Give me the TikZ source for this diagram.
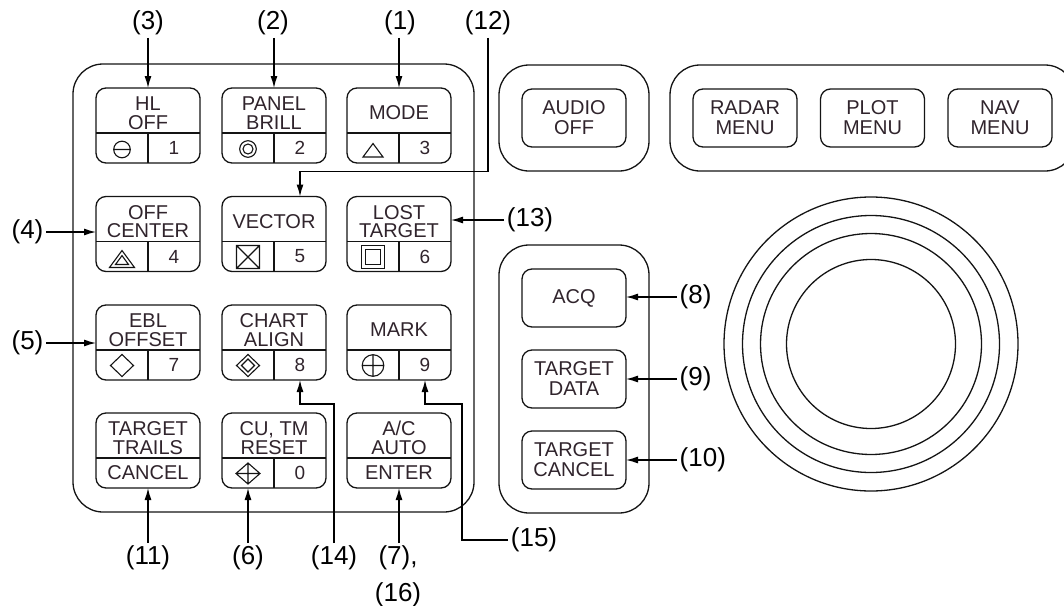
\documentclass[tikz,border=0pt]{standalone}
\usepackage{fontspec}
\setmainfont{Liberation Sans}
\usepackage{xcolor}
\definecolor{keyink}{RGB}{48,36,44}
\definecolor{keyedge}{RGB}{20,20,20}
\usetikzlibrary{calc}
\usetikzlibrary{positioning}
\usetikzlibrary{arrows.meta}
\usetikzlibrary{fit}
\usetikzlibrary{backgrounds}

\newcommand{\panelkey}[5]{%
  \node[key style,#1] (#2) {};
  \draw[divider style] ([yshift=-7.5pt]#2.west) -- ([yshift=-7.5pt]#2.east);
  \draw[divider style] ([yshift=-7.5pt]#2.center) -- (#2.south);
  \node[keytext style] (#2top) at ([yshift=12.5pt]#2.center) {#3};
  \pic at ([xshift=-26pt,yshift=-23pt]#2.center) {#4};
  \node[keynum style] (#2num) at ([xshift=26pt,yshift=-22.5pt]#2.center) {#5};
}
\newcommand{\panelwidekey}[4]{%
  \node[key style,#1] (#2) {};
  \draw[divider style] ([yshift=-7.5pt]#2.west) -- ([yshift=-7.5pt]#2.east);
  \node[keytext style] (#2top) at ([yshift=12.5pt]#2.center) {#3};
  \node[keytext style] (#2low) at ([yshift=-22.5pt]#2.center) {#4};
}

\begin{document}
\begin{tikzpicture}[x=1pt,y=-1pt,
      key style/.style={rectangle,draw=keyedge,line width=1.3pt,rounded corners=10pt,
        minimum width=104pt,minimum height=75pt,inner sep=0pt,outer sep=0pt},
      menu style/.style={key style,minimum height=58pt,align=center,text=keyink,
        font=\fontsize{20}{20}\selectfont},
      divider style/.style={draw=keyedge,line width=1.3pt},
      keytext style/.style={align=center,text=keyink,inner sep=0pt,
        font=\fontsize{20}{18.5}\selectfont},
      keynum style/.style={text=keyink,inner sep=0pt,font=\fontsize{19}{19}\selectfont},
      sym style/.style={draw=keyedge,line width=1.1pt},
      panel style/.style={draw=keyedge,line width=1.3pt,rounded corners=30pt,
        inner xsep=23pt,inner ysep=24pt},
      callout style/.style={align=center,inner sep=2.5pt,font=\fontsize{26}{37}\selectfont},
      pointer style/.style={-{Latex[length=12pt,width=7pt]},line width=1.3pt},
      sym minus/.pic={\draw[sym style] (0,1) circle[radius=8.3pt] (-8.3,1) -- (8.3,1);},
      sym ring/.pic={\draw[sym style] (0,0.5) circle[radius=8.3pt] (0,0.5) circle[radius=5pt];},
      sym tri/.pic={\draw[sym style] (0,-5) -- (10,8.5) -- (-10,8.5) -- cycle;},
      sym tri2/.pic={\draw[sym style] (0,-6.5) -- (12.5,10.5) -- (-12.5,10.5) -- cycle
        (0,-1.4) -- (6.5,7.5) -- (-6.5,7.5) -- cycle;},
      sym boxx/.pic={\draw[sym style] (-11.5,-11.5) rectangle (11.5,11.5)
        (-11.5,-11.5) -- (11.5,11.5) (-11.5,11.5) -- (11.5,-11.5);},
      sym box2/.pic={\draw[sym style] (-11.5,-11.5) rectangle (11.5,11.5)
        (-7.5,-7.5) rectangle (7.5,7.5);},
      sym dia/.pic={\draw[sym style] (0,-11) -- (11.5,0) -- (0,11) -- (-11.5,0) -- cycle;},
      sym dia2/.pic={\draw[sym style] (0,-11) -- (11.5,0) -- (0,11) -- (-11.5,0) -- cycle
        (0,-6.5) -- (6.5,0) -- (0,6.5) -- (-6.5,0) -- cycle;},
      sym plus/.pic={\draw[sym style] (0,0) circle[radius=10.8pt]
        (-10.8,0) -- (10.8,0) (0,-10.8) -- (0,10.8);},
      sym diaplus/.pic={\draw[sym style] (0,-10.5) -- (12,0) -- (0,10.5) -- (-12,0) -- cycle
        (-12,0) -- (12,0) (0,-10.5) -- (0,10.5);}
      ]
      \path[use as bounding box] (0,0) rectangle (1064,605);

      \panelkey{at={(148,125.5)}}{khl}{HL\\OFF}{sym minus}{1}
      \panelkey{right=22pt of khl}{kbrill}{PANEL\\BRILL}{sym ring}{2}
      \panelkey{right=21pt of kbrill}{kmode}{MODE}{sym tri}{3}
      \panelkey{below=33.5pt of khl}{koff}{OFF\\CENTER}{sym tri2}{4}
      \panelkey{right=22pt of koff}{kvec}{VECTOR}{sym boxx}{5}
      \panelkey{right=21pt of kvec}{klost}{LOST\\TARGET}{sym box2}{6}
      \panelkey{below=33.5pt of koff}{kebl}{EBL\\OFFSET}{sym dia}{7}
      \panelkey{right=22pt of kebl}{kchart}{CHART\\ALIGN}{sym dia2}{8}
      \panelkey{right=21pt of kchart}{kmark}{MARK}{sym plus}{9}
      \panelwidekey{below=33pt of kebl}{ktrails}{TARGET\\TRAILS}{CANCEL}
      \panelkey{right=22pt of ktrails}{kreset}{CU, TM\\RESET}{sym diaplus}{0}
      \panelwidekey{right=21pt of kreset}{kauto}{A/C\\AUTO}{ENTER}

      \node[menu style] (kaudio) at (574,118) {AUDIO\\OFF};
      \node[menu style] (kradar) at (745,118) {RADAR\\MENU};
      \node[menu style, right=23.5pt of kradar] (kplot) {PLOT\\MENU};
      \node[menu style, right=23.5pt of kplot] (knav) {NAV\\MENU};
      \node[menu style] (kacq) at (574,298) {ACQ};
      \node[menu style, below=23pt of kacq] (kdata) {TARGET\\DATA};
      \node[menu style, below=23pt of kdata] (kcancel) {TARGET\\CANCEL};

      \coordinate (ball) at (871,344);
      \foreach \r in {84.5,110.5,128.5,147}
        \draw[divider style] (ball) circle[radius=\r pt];

      \node[callout style] (c3) at (148,23) {(3)};
      \node[callout style] (c2) at (273,23) {(2)};
      \node[callout style] (c1) at (400,23) {(1)};
      \node[callout style] (c12) at (488,23) {(12)};
      \node[callout style] (c4) at (27.5,232) {(4)};
      \node[callout style] (c5) at (27.5,343) {(5)};
      \node[callout style] (c13) at (530,220) {(13)};
      \node[callout style, anchor=west] (c8) at (677,297) {(8)};
      \node[callout style, anchor=west] (c9) at (677,379) {(9)};
      \node[callout style, anchor=west] (c10) at (677,460) {(10)};
      \node[callout style] (c11) at (148,558) {(11)};
      \node[callout style] (c6) at (248,558) {(6)};
      \node[callout style] (c14) at (334,558) {(14)};
      \node[callout style, anchor=north] (c7) at (398,543) {(7),\\(16)};
      \node[callout style] (c15) at (534,540) {(15)};

      \draw[pointer style] (khl.north |- c3.south) -- (khl.north);
      \draw[pointer style] (kbrill.north |- c2.south) -- (kbrill.north);
      \draw[pointer style] (kmode.north |- c1.south) -- (kmode.north);
      \draw[pointer style] (c12.south) |- ([xshift=26pt,yshift=25pt]kvec.north) -- ([xshift=26pt]kvec.north);
      \draw[pointer style] (c4.east) -- (c4.east -| koff.west);
      \draw[pointer style] (c5.east) -- (c5.east -| kebl.west);
      \draw[pointer style] (c13.west) -- (c13.west -| klost.east);
      \draw[pointer style] (c8.west) -- (c8.west -| kacq.east);
      \draw[pointer style] (c9.west) -- (c9.west -| kdata.east);
      \draw[pointer style] (c10.west) -- (c10.west -| kcancel.east);
      \draw[pointer style] (ktrails.south |- c11.north) -- (ktrails.south);
      \draw[pointer style] (c6.north) -- (c6.north |- kreset.south);
      \draw[pointer style] (kauto.south |- c7.north) -- (kauto.south);
      \draw[pointer style] (c14.north) |- ([xshift=26pt,yshift=-24pt]kchart.south) -- ([xshift=26pt]kchart.south);
      \draw[pointer style] (c15.west) -| ([xshift=11pt,yshift=-24pt]kmark.south east) -| ([xshift=26pt]kmark.south);

      \begin{scope}[on background layer]
        \node[panel style,fit=(khl)(kauto)] (keypad) {};
        \node[panel style,fit=(kaudio)] (audio) {};
        \node[panel style,fit=(kradar)(knav)] (menus) {};
        \node[panel style,fit=(kacq)(kcancel)] (acqpanel) {};
      \end{scope}
    \end{tikzpicture}
\end{document}
